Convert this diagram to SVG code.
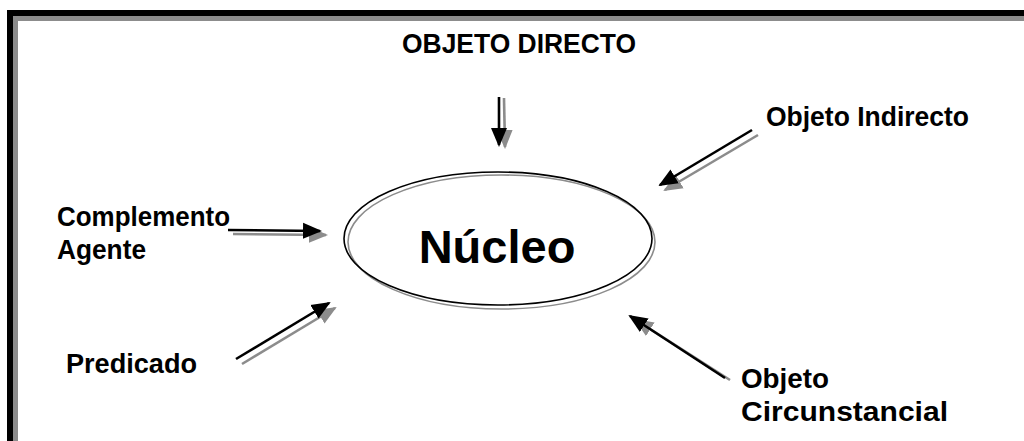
<svg xmlns="http://www.w3.org/2000/svg" width="1024" height="441" viewBox="0 0 1024 441">
<style>
.lbl{font-family:"Liberation Sans",Arial,sans-serif;font-weight:bold;font-size:27px;fill:#000}
.big{font-family:"Liberation Sans",Arial,sans-serif;font-weight:bold;font-size:47px;fill:#000}
.lb{stroke:#000;stroke-width:2.6;fill:none}
.lg{stroke:#8c8c8c;stroke-width:2.6;fill:none}
</style>
<defs>
<marker id="hb" markerUnits="userSpaceOnUse" markerWidth="20" markerHeight="18" viewBox="0 -9 20 18" refX="17" refY="0" orient="auto"><path d="M0,-8 L19,0 L0,8 z" fill="#000"/></marker>
<marker id="hg" markerUnits="userSpaceOnUse" markerWidth="20" markerHeight="18" viewBox="0 -9 20 18" refX="17" refY="0" orient="auto"><path d="M0,-8 L19,0 L0,8 z" fill="#8c8c8c"/></marker>
</defs>
<rect x="0" y="0" width="1024" height="441" fill="#fff"/>
<g id="frame">
<rect x="7" y="10" width="1030" height="440" fill="#000"/>
<rect x="13" y="16" width="1030" height="440" fill="#8c8c8c"/>
<rect x="18" y="21" width="1030" height="440" fill="#fff"/>
</g>
<g id="nucleo">
<ellipse cx="501.5" cy="242" rx="153.5" ry="67" fill="none" stroke="#8c8c8c" stroke-width="1.6"/>
<ellipse cx="498" cy="238.5" rx="154" ry="66.5" fill="none" stroke="#000" stroke-width="1.6"/>
<text class="big" x="497" y="263" text-anchor="middle">Núcleo</text>
</g>
<g id="objeto-directo"><text class="lbl" x="402" y="53" textLength="234" lengthAdjust="spacingAndGlyphs">OBJETO DIRECTO</text></g>
<g id="objeto-indirecto"><text class="lbl" x="766" y="126" textLength="203" lengthAdjust="spacingAndGlyphs">Objeto Indirecto</text></g>
<g id="complemento-agente"><text class="lbl" x="57" y="226" textLength="173" lengthAdjust="spacingAndGlyphs">Complemento</text><text class="lbl" x="57" y="259" textLength="89" lengthAdjust="spacingAndGlyphs">Agente</text></g>
<g id="predicado"><text class="lbl" x="66" y="373" textLength="131" lengthAdjust="spacingAndGlyphs">Predicado</text></g>
<g id="objeto-circunstancial"><text class="lbl" x="741" y="388" textLength="88" lengthAdjust="spacingAndGlyphs">Objeto</text><text class="lbl" x="741" y="421" textLength="207" lengthAdjust="spacingAndGlyphs">Circunstancial</text></g>
<g id="connectors">
<line class="lg" x1="504" y1="98" x2="505" y2="147" marker-end="url(#hg)"/>
<line class="lb" x1="499" y1="97" x2="499" y2="145" marker-end="url(#hb)"/>
<line class="lg" x1="758" y1="135" x2="665" y2="190" marker-end="url(#hg)"/>
<line class="lb" x1="752" y1="130" x2="660" y2="185" marker-end="url(#hb)"/>
<line class="lg" x1="233" y1="234" x2="326" y2="235" marker-end="url(#hg)"/>
<line class="lb" x1="228" y1="230" x2="320" y2="231" marker-end="url(#hb)"/>
<line class="lg" x1="242" y1="364" x2="335" y2="308" marker-end="url(#hg)"/>
<line class="lb" x1="236" y1="359" x2="329" y2="303" marker-end="url(#hb)"/>
<line class="lg" x1="730" y1="380" x2="636" y2="320" marker-end="url(#hg)"/>
<line class="lb" x1="725" y1="378" x2="630" y2="316" marker-end="url(#hb)"/>
</g>
</svg>
